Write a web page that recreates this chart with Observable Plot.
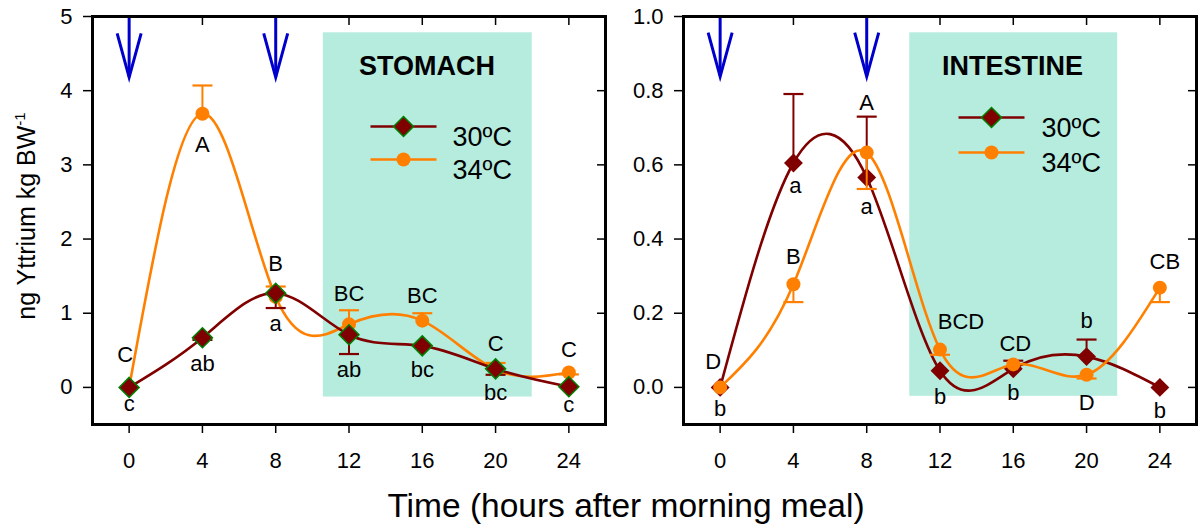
<!DOCTYPE html>
<html>
<head>
<meta charset="utf-8">
<script src="https://cdn.jsdelivr.net/npm/d3@7"></script>
<script src="https://cdn.jsdelivr.net/npm/@observablehq/plot@0.6"></script>
<style>
  body { margin: 0; background: #fff; font-family: "Liberation Sans", Arial, sans-serif; }
  #wrap { position: relative; width: 1198px; height: 530px; overflow: hidden; }
  #left { position: absolute; left: 0; top: 0; }
  #right { position: absolute; left: 610px; top: 0; }
  #titles { position: absolute; left: 0; top: 0; pointer-events: none; }
</style>
</head>
<body>
<div id="wrap">
  <div id="left"></div>
  <div id="right"></div>
  <svg id="titles" width="1198" height="530"></svg>
</div>
<script>
// ---------------- data ----------------
const hours = [0, 4, 8, 12, 16, 20, 24];
const xTicks = [0, 4, 8, 12, 16, 20, 24];
const seriesNames = ["30ºC", "34ºC"];
const mealTimes = [0, 8];

// Stomach
const stomach30 = [0, 0.67, 1.27, 0.71, 0.56, 0.25, 0.01];
const stomach30Err = [null, 0.64, 1.07, 0.45, null, 0.17, null];
const stomach34 = [0, 3.69, 1.22, 0.85, 0.90, 0.24, 0.20];
const stomach34Err = [null, 4.07, 1.36, 1.04, 1.00, 0.33, 0.175];
const stomach30Letters = ["c", "ab", "a", "ab", "bc", "bc", "c"];
const stomach34Letters = ["C", "A", "B", "BC", "BC", "C", "C"];
const stomachYTicks = [0, 1, 2, 3, 4, 5];
const stomachYDomain = [-0.5, 5];
const stomachShadeX = [10.6, 22.0];
const stomachShadeY = [-0.13, 4.78];
const stomachArrowTip = 4.18;

// Intestine
const intestine30 = [0, 0.605, 0.566, 0.045, 0.05, 0.083, 0];
const intestine30Err = [null, 0.791, 0.73, null, 0.072, 0.129, null];
const intestine34 = [0, 0.278, 0.633, 0.102, 0.062, 0.034, 0.269];
const intestine34Err = [null, 0.23, 0.535, 0.088, null, 0.024, 0.23];
const intestine30Letters = ["b", "a", "a", "b", "b", "b", "b"];
const intestine34Letters = ["D", "B", "A", "BCD", "CD", "D", "CB"];
const intestineYTicks = [0, 0.2, 0.4, 0.6, 0.8, 1.0];
const intestineYDomain = [-0.1, 1.0];
const intestineShadeX = [10.35, 21.7];
const intestineShadeY = [-0.024, 0.956];
const intestineArrowTip = 0.838;

// ---------------- layout (pixel offsets of the letter labels) ----------------
const stomach30LabelOff = [[0, 17], [0, 26], [0, 31], [0, 35], [0, 24], [0, 24], [0, 18]];
const stomach34LabelOff = [[-4, -32], [0, 31], [0, -33], [0, -30], [0, -25], [0, -26], [0, -23]];
const intestine30LabelOff = [[0, 22], [2, 23], [0, 29], [0, 26], [0, 24], [0, -36], [0, 24]];
const intestine34LabelOff = [[-7, -25], [0, -27], [0, -50], [21, -28], [2, -20], [0, 28], [5, -26]];

// ---------------- styles ----------------
const RED = "#800000", ORANGE = "#ff8000", GREEN = "#008000", BLUE = "#0000cc";
const SHADE = "#b5ecde";
const FONT = '"Liberation Sans", Arial, sans-serif';

const capSymbol = { draw(ctx) { ctx.moveTo(-10, 0); ctx.lineTo(10, 0); } };
const arrowHead = { draw(ctx) { ctx.moveTo(-12, -44); ctx.lineTo(0, 0); ctx.lineTo(12, -44); } };
const legendLine = { draw(ctx) { ctx.moveTo(-33, 0); ctx.lineTo(33, 0); } };

function panel(cfg) {
  const rowsA = hours.map((t, i) => ({ t, v: cfg.a[i], e: cfg.aErr[i] }));
  const rowsB = hours.map((t, i) => ({ t, v: cfg.b[i], e: cfg.bErr[i] }));
  const errA = rowsA.filter(d => d.e != null);
  const errB = rowsB.filter(d => d.e != null);

  const seriesA = [
    Plot.line(rowsA, { x: "t", y: "v", curve: "natural", stroke: RED, strokeWidth: 2.6 }),
    Plot.ruleX(errA, { x: "t", y1: "v", y2: "e", stroke: RED, strokeWidth: 2 }),
    Plot.dot(errA, { x: "t", y: "e", symbol: capSymbol, stroke: RED, fill: "none", strokeWidth: 2.2 }),
    Plot.dot(rowsA, { x: "t", y: "v", symbol: "diamond2", r: cfg.diamondR, fill: RED,
      stroke: cfg.diamondStroke, strokeWidth: 1.5 })
  ];
  const seriesB = [
    Plot.line(rowsB, { x: "t", y: "v", curve: "natural", stroke: ORANGE, strokeWidth: 2.6 }),
    Plot.ruleX(errB, { x: "t", y1: "v", y2: "e", stroke: ORANGE, strokeWidth: 2 }),
    Plot.dot(errB, { x: "t", y: "e", symbol: capSymbol, stroke: ORANGE, fill: "none", strokeWidth: 2.2 }),
    Plot.dot(rowsB, { x: "t", y: "v", r: 7, fill: ORANGE, stroke: "none" })
  ];

  const letterMarks = [];
  hours.forEach((t, i) => {
    letterMarks.push(Plot.text([rowsA[i]], { x: "t", y: "v", text: () => cfg.aLetters[i],
      dx: cfg.aOff[i][0], dy: cfg.aOff[i][1], fontSize: 22, fill: "black" }));
    letterMarks.push(Plot.text([rowsB[i]], { x: "t", y: "v", text: () => cfg.bLetters[i],
      dx: cfg.bOff[i][0], dy: cfg.bOff[i][1], fontSize: 22, fill: "black" }));
  });

  const L = cfg.legend;
  const legendMarks = [
    Plot.text([cfg.title], { frameAnchor: "top-left", dx: L.titleX, dy: L.titleY, text: d => d,
      textAnchor: "middle", fontSize: 27, fontWeight: "bold", fill: "black" }),
    Plot.dot([0], { frameAnchor: "top-left", dx: L.lineX, dy: L.row1, symbol: legendLine, stroke: RED, strokeWidth: 2.6 }),
    Plot.dot([0], { frameAnchor: "top-left", dx: L.lineX, dy: L.row1, symbol: "diamond2", r: 9, fill: RED, stroke: GREEN, strokeWidth: 1.5 }),
    Plot.dot([0], { frameAnchor: "top-left", dx: L.lineX, dy: L.row2, symbol: legendLine, stroke: ORANGE, strokeWidth: 2.6 }),
    Plot.dot([0], { frameAnchor: "top-left", dx: L.lineX, dy: L.row2, r: 7, fill: ORANGE }),
    Plot.text([seriesNames[0]], { frameAnchor: "top-left", dx: L.textX, dy: L.row1, text: d => d,
      textAnchor: "start", fontSize: 27, fill: "black" }),
    Plot.text([seriesNames[1]], { frameAnchor: "top-left", dx: L.textX, dy: L.row2, text: d => d,
      textAnchor: "start", fontSize: 27, fill: "black" })
  ];

  const yMax = cfg.yDomain[1];
  return Plot.plot({
    width: cfg.width,
    height: 480,
    marginLeft: cfg.marginLeft,
    marginRight: cfg.marginRight,
    marginTop: 16,
    marginBottom: 56,
    style: { fontFamily: FONT, fontSize: "22px", color: "black", background: "transparent", overflow: "visible" },
    x: { domain: [-2, 26], axis: null },
    y: { domain: cfg.yDomain, axis: null },
    marks: [
      Plot.rect([0], { x1: () => cfg.shadeX[0], x2: () => cfg.shadeX[1],
        y1: () => cfg.shadeY[0], y2: () => cfg.shadeY[1], fill: SHADE }),
      Plot.axisX(xTicks, { anchor: "bottom", tickSize: 9, tickPadding: 19, fontSize: 22, label: null, strokeWidth: 1.5 }),
      Plot.axisX(xTicks, { anchor: "top", tickSize: -8, tickFormat: () => "", label: null, strokeWidth: 1.5 }),
      Plot.axisY(cfg.yTicks, { anchor: "left", tickSize: 9, tickPadding: 11, fontSize: 22, label: null,
        tickFormat: cfg.yFormat, strokeWidth: 1.5 }),
      Plot.axisY(cfg.yTicks, { anchor: "right", tickSize: -9, tickFormat: () => "", label: null, strokeWidth: 1.5 }),
      Plot.ruleX(mealTimes, { x: d => d, y1: () => yMax, y2: () => cfg.arrowTip, stroke: BLUE, strokeWidth: 3 }),
      Plot.dot(mealTimes, { x: d => d, y: () => cfg.arrowTip, symbol: arrowHead, stroke: BLUE, fill: "none",
        strokeWidth: 3, strokeLinejoin: "miter" }),
      ...(cfg.redOnTop ? [...seriesB, ...seriesA] : [...seriesA, ...seriesB]),
      ...letterMarks,
      ...legendMarks,
      Plot.frame({ stroke: "black", strokeWidth: 3 })
    ]
  });
}

document.getElementById("left").append(panel({
  width: 610, marginLeft: 92, marginRight: 5,
  a: stomach30, aErr: stomach30Err, b: stomach34, bErr: stomach34Err,
  aLetters: stomach30Letters, bLetters: stomach34Letters,
  aOff: stomach30LabelOff, bOff: stomach34LabelOff,
  yDomain: stomachYDomain, yTicks: stomachYTicks, yFormat: d3.format("d"),
  shadeX: stomachShadeX, shadeY: stomachShadeY, arrowTip: stomachArrowTip,
  diamondR: 9, diamondStroke: GREEN, redOnTop: true,
  title: "STOMACH",
  legend: { titleX: 334.5, titleY: 39, lineX: 311, row1: 110, row2: 143, textX: 360 }
}));

document.getElementById("right").append(panel({
  width: 588, marginLeft: 73, marginRight: 2,
  a: intestine30, aErr: intestine30Err, b: intestine34, bErr: intestine34Err,
  aLetters: intestine30Letters, bLetters: intestine34Letters,
  aOff: intestine30LabelOff, bOff: intestine34LabelOff,
  yDomain: intestineYDomain, yTicks: intestineYTicks, yFormat: d3.format(".1f"),
  shadeX: intestineShadeX, shadeY: intestineShadeY, arrowTip: intestineArrowTip,
  diamondR: 8.5, diamondStroke: "none", redOnTop: false,
  title: "INTESTINE",
  legend: { titleX: 329, titleY: 39, lineX: 308, row1: 101, row2: 136, textX: 358 }
}));

// axis titles
const titles = d3.select("#titles");
titles.append("text")
  .attr("x", 626).attr("y", 517)
  .attr("text-anchor", "middle")
  .attr("font-family", FONT).attr("font-size", 33.5).attr("fill", "black")
  .text("Time (hours after morning meal)");
const yl = titles.append("text")
  .attr("transform", "translate(35,216) rotate(-90)")
  .attr("text-anchor", "middle")
  .attr("font-family", FONT).attr("font-size", 25).attr("fill", "black");
yl.append("tspan").text("ng Yttrium kg BW");
yl.append("tspan").attr("font-size", 15).attr("dy", -10).text("-1");
</script>
</body>
</html>
